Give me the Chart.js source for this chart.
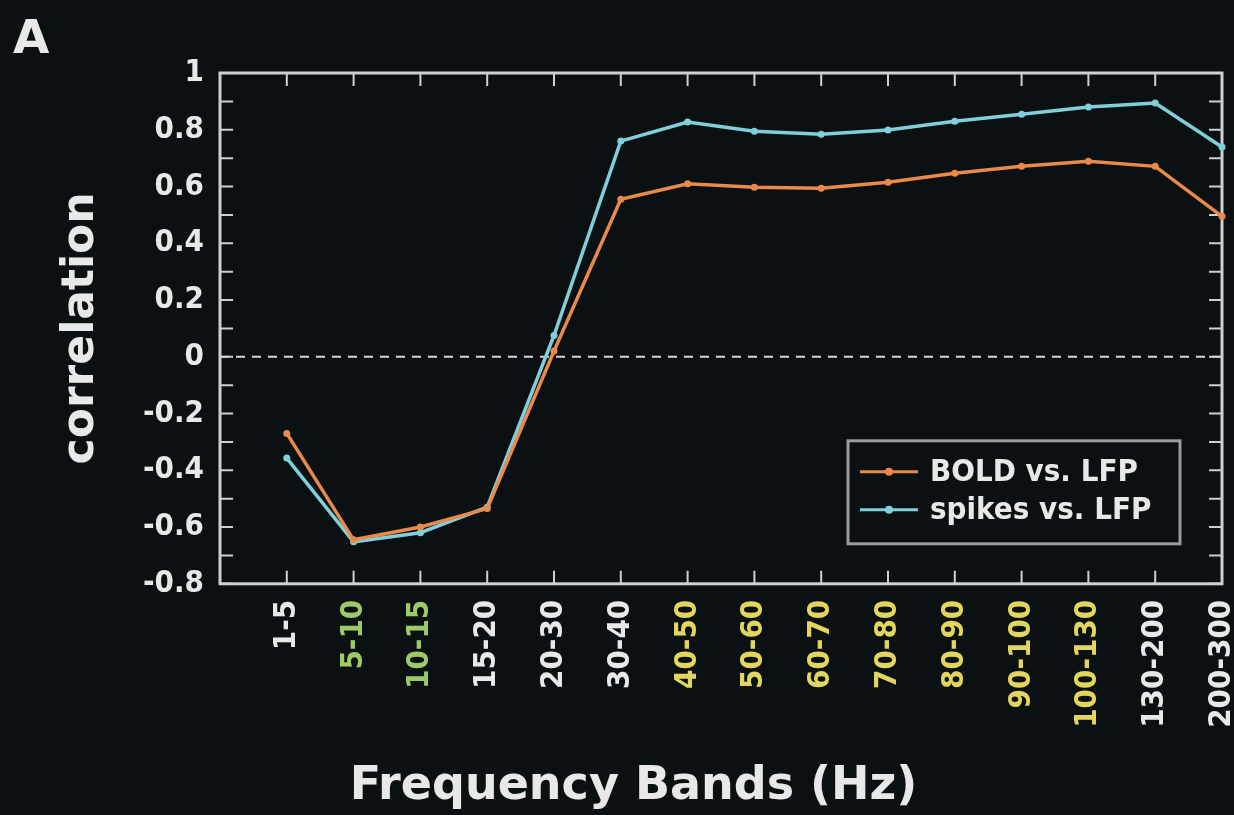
<!DOCTYPE html>
<html>
<head>
<meta charset="utf-8">
<script src="https://cdn.jsdelivr.net/npm/chart.js@4/dist/chart.umd.min.js"></script>
<style>
  html, body { margin: 0; padding: 0; background: #0b1012; }
  #wrap { width: 1234px; height: 815px; }
</style>
</head>
<body>
<div id="wrap"><canvas id="mainChart" width="1234" height="815"></canvas></div>
<script>
// frequency bands on x, correlation values
const bands = ["1-5", "5-10", "10-15", "15-20", "20-30", "30-40", "40-50", "50-60",
               "60-70", "70-80", "80-90", "90-100", "100-130", "130-200", "200-300"];
const boldVsLfp   = [-0.27, -0.645, -0.60, -0.535, 0.02, 0.555, 0.61, 0.597, 0.594, 0.615, 0.647, 0.671, 0.689, 0.671, 0.495];
const spikesVsLfp = [-0.357, -0.652, -0.62, -0.53, 0.075, 0.76, 0.827, 0.795, 0.784, 0.799, 0.83, 0.855, 0.88, 0.894, 0.739];
const yTicks = [-0.8, -0.6, -0.4, -0.2, 0, 0.2, 0.4, 0.6, 0.8, 1];

// band label groups (coloured in the original)
const greenBands  = ["5-10", "10-15"];
const yellowBands = ["40-50", "50-60", "60-70", "70-80", "80-90", "90-100", "100-130"];

const bg = '#0b1012', textColor = '#e8e8e8', frameColor = '#cfcfcf';
const orange = '#e98a4b', cyan = '#80cfdb';
const fontFamily = "'DejaVu Sans', Verdana, sans-serif";
const condFamily = "'DejaVu Sans Condensed', 'DejaVu Sans', sans-serif";
Chart.defaults.font.family = fontFamily;

function bandColor(i) {
  const b = bands[i];
  if (greenBands.includes(b)) return '#9dca68';
  if (yellowBands.includes(b)) return '#e2d65e';
  return textColor;
}

// ticks every 0.1 = major ticks plus midpoints
function minorValues() {
  const out = [];
  yTicks.forEach((v, i) => {
    out.push(v);
    if (i < yTicks.length - 1) out.push((v + yTicks[i + 1]) / 2);
  });
  return out;
}

const framePlugin = {
  id: 'frame',
  beforeDraw(chart) {
    const ctx = chart.ctx;
    ctx.save();
    ctx.fillStyle = bg;
    ctx.fillRect(0, 0, chart.width, chart.height);
    ctx.restore();
  },
  beforeDatasetsDraw(chart) {
    const { ctx, chartArea: a, scales: { x, y } } = chart;
    ctx.save();
    // dashed zero line
    const y0 = y.getPixelForValue(0);
    ctx.strokeStyle = '#d6d6d6';
    ctx.lineWidth = 2;
    ctx.setLineDash([9, 7]);
    ctx.beginPath(); ctx.moveTo(a.left, y0); ctx.lineTo(a.right, y0); ctx.stroke();
    ctx.setLineDash([]);
    // inward tick marks on all four sides
    const tl = 13;
    ctx.strokeStyle = frameColor;
    ctx.lineWidth = 2;
    ctx.beginPath();
    minorValues().forEach(v => {
      const p = y.getPixelForValue(v);
      ctx.moveTo(a.left, p); ctx.lineTo(a.left + tl, p);
      ctx.moveTo(a.right, p); ctx.lineTo(a.right - tl, p);
    });
    bands.forEach((b, i) => {
      const p = x.getPixelForValue(i);
      ctx.moveTo(p, a.top); ctx.lineTo(p, a.top + tl);
      ctx.moveTo(p, a.bottom); ctx.lineTo(p, a.bottom - tl);
    });
    ctx.stroke();
    ctx.lineWidth = 3;
    ctx.strokeRect(a.left, a.top, a.right - a.left, a.bottom - a.top);
    ctx.restore();
  },
  afterDraw(chart) {
    const { ctx, chartArea: a } = chart;
    ctx.save();
    // panel letter
    ctx.fillStyle = textColor;
    ctx.font = "bold 47px " + fontFamily;
    ctx.textBaseline = 'alphabetic';
    ctx.fillText('A', 13, 53);
    // legend box
    const bx = a.right - 374, by = a.bottom - 143, bw = 332, bh = 103;
    ctx.fillStyle = bg;
    ctx.fillRect(bx, by, bw, bh);
    ctx.strokeStyle = '#9c9c9c';
    ctx.lineWidth = 3;
    ctx.strokeRect(bx, by, bw, bh);
    ctx.font = "bold 31px " + condFamily;
    ctx.textBaseline = 'middle';
    chart.data.datasets.forEach((ds, i) => {
      const cy = by + 31 + i * 38;
      ctx.strokeStyle = ds.borderColor;
      ctx.lineWidth = 3;
      ctx.beginPath(); ctx.moveTo(bx + 12, cy); ctx.lineTo(bx + 70, cy); ctx.stroke();
      ctx.fillStyle = ds.borderColor;
      ctx.beginPath(); ctx.arc(bx + 41, cy, 4, 0, Math.PI * 2); ctx.fill();
      ctx.fillStyle = textColor;
      ctx.fillText(ds.label, bx + 82, cy + 1);
    });
    ctx.restore();
  }
};

const tickFont = { family: condFamily, size: 31, weight: 'bold' };

new Chart(document.getElementById('mainChart'), {
  type: 'line',
  data: {
    datasets: [
      {
        label: 'BOLD vs. LFP',
        data: boldVsLfp.map((v, i) => ({ x: i, y: v })),
        borderColor: orange, backgroundColor: orange,
        borderWidth: 3.5, pointRadius: 3.5, pointBorderWidth: 0, tension: 0, clip: false
      },
      {
        label: 'spikes vs. LFP',
        data: spikesVsLfp.map((v, i) => ({ x: i, y: v })),
        borderColor: cyan, backgroundColor: cyan,
        borderWidth: 3.5, pointRadius: 3.5, pointBorderWidth: 0, tension: 0, clip: false
      }
    ]
  },
  options: {
    responsive: false,
    animation: false,
    devicePixelRatio: 1,
    layout: { padding: { top: 73, right: 12, left: 45, bottom: 0 } },
    plugins: {
      legend: { display: false },
      tooltip: { enabled: false },
      title: {
        display: true, position: 'bottom', text: 'Frequency Bands (Hz)', color: textColor,
        font: { family: fontFamily, size: 46, weight: 'bold', lineHeight: 1.2 },
        padding: { top: 8, bottom: 0 }
      }
    },
    scales: {
      x: {
        type: 'linear', min: -1, max: bands.length - 1,
        grid: { display: false, drawTicks: false }, border: { display: false },
        afterBuildTicks: s => { s.ticks = bands.map((b, i) => ({ value: i })); },
        ticks: {
          autoSkip: false, minRotation: 90, maxRotation: 90, padding: 16,
          font: tickFont, color: c => bandColor(c.tick ? c.tick.value : 0),
          callback: v => bands[v]
        },
        afterFit: s => { s.height = 168; s.paddingLeft = 0; s.paddingRight = 0; }
      },
      y: {
        min: -0.8, max: 1,
        grid: { display: false, drawTicks: false }, border: { display: false },
        afterBuildTicks: s => { s.ticks = yTicks.map(v => ({ value: v })); },
        ticks: { padding: 16, font: tickFont, color: textColor, callback: v => String(Math.round(v * 10) / 10) },
        title: {
          display: true, text: 'correlation', color: textColor,
          font: { family: fontFamily, size: 44, weight: 'bold', lineHeight: 1.2 },
          padding: { top: 10, bottom: 0 }
        },
        afterFit: s => { s.width = 175; s.paddingTop = 0; s.paddingBottom = 0; }
      }
    }
  },
  plugins: [framePlugin]
});
</script>
</body>
</html>
